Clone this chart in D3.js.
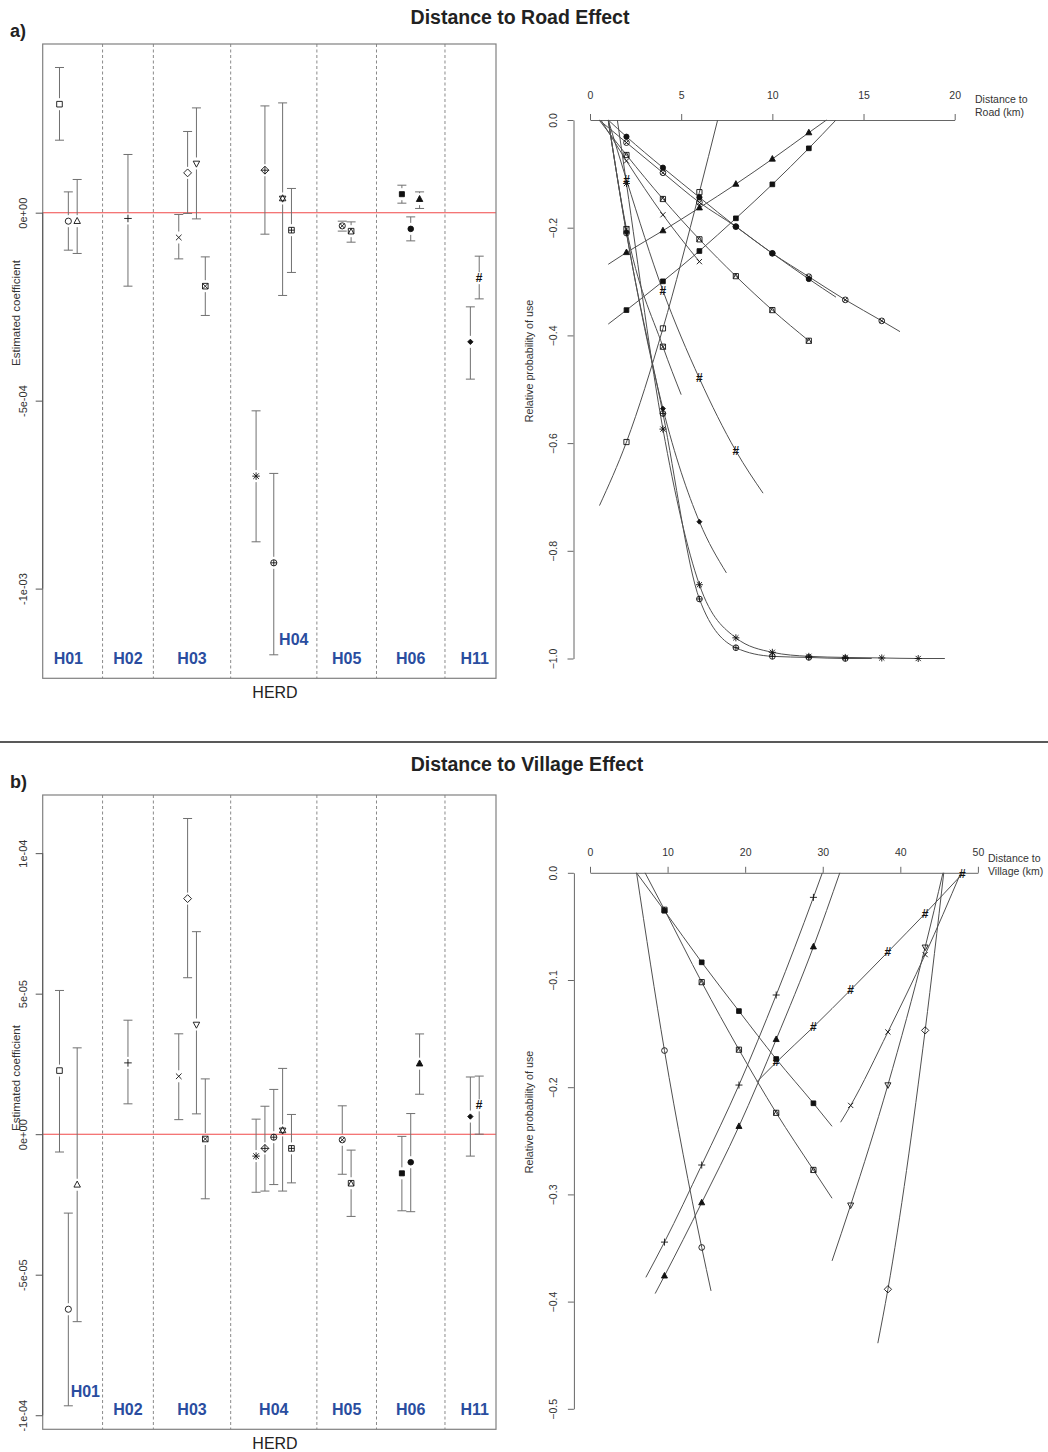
<!DOCTYPE html>
<html><head><meta charset="utf-8">
<script src="https://cdn.jsdelivr.net/npm/d3@7"></script>
<style>body{margin:0;background:#fff}svg{display:block}text{font-family:"Liberation Sans",Arial,sans-serif}</style>
</head><body>
<svg id="c" width="1048" height="1452"></svg>
<script>
// ---------- DATA ----------
const herds = ["H01","H02","H03","H04","H05","H06","H11"];
const coefHerd = [0,0,0,1,2,2,2,2,3,3,3,3,3,4,4,5,5,5,6,6];
const coefPch  = [0,1,2,3,4,5,6,7,8,9,10,11,12,13,14,15,16,17,18,"#"];
// Distance to road coefficients (units of 1e-4)
const roadEst = [2.886,-0.226,-0.226,-0.154,-0.660,1.059,1.309,-1.955,-7.008,1.130,-9.314,0.378,-0.465,-0.351,-0.492,0.492,-0.431,0.359,-3.436,-1.742];
const roadLo  = [1.928,-0.997,-1.085,-1.955,-1.229,-0.020,-0.165,-2.734,-8.755,-0.572,-11.761,-2.202,-1.590,-0.490,-0.785,0.253,-0.750,0.112,-4.428,-2.293];
const roadHi  = [3.862,0.553,0.883,1.548,-0.048,2.160,2.787,-1.176,-5.271,2.840,-6.936,2.920,0.644,-0.226,-0.245,0.731,-0.112,0.553,-2.505,-1.157];
const roadTicks = [0,-5,-10];
const roadTickLabels = ["0e+00","-5e-04","-1e-03"];
// Distance to village coefficients (units of 1e-5)
const villEst = [2.263,-6.229,-1.800,2.537,2.060,8.382,3.902,-0.171,-0.780,-0.506,-0.107,0.135,-0.506,-0.200,-1.746,-1.393,-0.998,2.509,0.627,1.026];
const villLo  = [-0.634,-9.665,-6.671,1.080,0.517,5.567,0.723,-2.299,-2.067,-2.024,-1.793,-2.024,-1.732,-1.426,-2.926,-2.726,-2.758,1.422,-0.780,0.000];
const villHi  = [5.114,-2.808,3.072,4.056,3.571,11.233,7.206,1.967,0.535,0.994,1.593,2.341,0.702,1.009,-0.567,-0.078,0.734,3.567,2.035,2.067];
const villTicks = [10,5,0,-5,-10];
const villTickLabels = ["1e-04","5e-05","0e+00","-5e-05","-1e-04"];

// Relative probability curves: [distance km, relative probability, marker?]
const rH01sq  = [[0.52,-0.716,0],[2,-0.598,1],[4,-0.387,1],[6,-0.134,1],[7.0,0,0]];
const rH03x   = [[0.6,0,0],[2,-0.076,1],[4,-0.176,1],[6,-0.263,1]];
const rH03sqx = [[1.0,0,0],[2,-0.2025,1],[4,-0.421,1],[5,-0.51,0]];
const rH04ast = [[1.5,0,0],[2,-0.118,1],[4,-0.574,1],[6,-0.863,1],[8,-0.9616,1],[10,-0.9885,1],[12,-0.996,1],[14,-0.998,1],[16,-0.999,1],[18,-1.0,1],[19.46,-1.0,0]];
const rH04cp  = [[1.0,0,0],[2,-0.21,1],[4,-0.545,1],[6,-0.8895,1],[8,-0.980,1],[10,-0.996,1],[12,-0.998,1],[14,-1.0,1],[15.45,-1.0,0]];
const rH05cx  = [[0.5,0,0],[2,-0.042,1],[4,-0.098,1],[6,-0.153,1],[8,-0.198,1],[10,-0.2476,1],[12,-0.291,1],[14,-0.334,1],[16,-0.373,1],[17,-0.393,0]];
const rH05st  = [[0.5,0,0],[2,-0.065,1],[4,-0.1467,1],[6,-0.2216,1],[8,-0.29,1],[10,-0.353,1],[12,-0.41,1]];
const rH06fsq = [[1.0,-0.379,0],[2,-0.353,1],[4,-0.2996,1],[6,-0.2433,1],[8,-0.1826,1],[10,-0.1195,1],[12,-0.0526,1],[13.49,0,0]];
const rH06fci = [[1.0,0,0],[2,-0.031,1],[4,-0.0885,1],[6,-0.1436,1],[8,-0.198,1],[10,-0.2476,1],[12,-0.2953,1],[13.49,-0.329,0]];
const rH06ftr = [[1.0,-0.268,0],[2,-0.246,1],[4,-0.2055,1],[6,-0.163,1],[8,-0.119,1],[10,-0.0724,1],[12,-0.0235,1],[12.97,0,0]];
const rH11fdm = [[1.0,0,0],[2,-0.209,1],[4,-0.536,1],[6,-0.746,1],[7.48,-0.841,0]];
const rH11hash= [[1.0,0,0],[2,-0.111,1],[4,-0.317,1],[6,-0.48,1],[8,-0.6145,1],[9.49,-0.693,0]];
const roadCurves = [[rH01sq,0],[rH03x,4],[rH03sqx,7],[rH04ast,8],[rH04cp,10],[rH05cx,13],[rH05st,14],[rH06fsq,15],[rH06fci,16],[rH06ftr,17],[rH11fdm,18],[rH11hash,"#"]];

const vH01ci  = [[6.0,0,0],[9.6,-0.1658,1],[14.4,-0.3495,1],[15.6,-0.390,0]];
const vH02pl  = [[7.2,-0.3774,0],[9.6,-0.3445,1],[14.4,-0.2726,1],[19.2,-0.198,1],[24.0,-0.114,1],[28.8,-0.0229,1],[29.95,0,0]];
const vH03x   = [[32.3,-0.2327,0],[33.6,-0.217,1],[38.4,-0.1485,1],[43.2,-0.0763,1],[47.8,0,0]];
const vH03dm  = [[37.1,-0.4388,0],[38.4,-0.3885,1],[43.2,-0.147,1],[45.6,0,0]];
const vH03td  = [[31.2,-0.362,0],[33.6,-0.31,1],[38.4,-0.1979,1],[43.2,-0.0694,1],[45.5,0,0]];
const vH05st  = [[7.1,0,0],[9.6,-0.0345,1],[14.4,-0.102,1],[19.2,-0.165,1],[24.0,-0.2239,1],[28.8,-0.2772,1],[31.2,-0.3036,0]];
const vH06fsq = [[6.0,0,0],[9.6,-0.0354,1],[14.4,-0.0835,1],[19.2,-0.129,1],[24.0,-0.1737,1],[28.8,-0.215,1],[31.2,-0.2365,0]];
const vH06ftr = [[8.4,-0.3925,0],[9.6,-0.376,1],[14.4,-0.3077,1],[19.2,-0.2365,1],[24.0,-0.1554,1],[28.8,-0.069,1],[32.2,0,0]];
const vH11hash= [[21.5,-0.195,0],[24.0,-0.1768,1],[28.8,-0.1438,1],[33.6,-0.1092,1],[38.4,-0.0738,1],[43.2,-0.038,1],[48.0,-0.001,1]];
const villCurves = [[vH01ci,1],[vH02pl,3],[vH03x,4],[vH03dm,5],[vH03td,6],[vH05st,14],[vH06fsq,15],[vH06ftr,17],[vH11hash,"#"]];

const roadXTicks = [0,5,10,15,20];
const roadYTicks = [0,-0.2,-0.4,-0.6,-0.8,-1.0];
const villXTicks = [0,10,20,30,40,50];
const villYTicks = [0,-0.1,-0.2,-0.3,-0.4,-0.5];

// ---------- DRAWING ----------
const svg = d3.select("#c");
svg.append("rect").attr("width",1048).attr("height",1452).attr("fill","#fff");
const BLUE = "#2a4d9f";

function symPath(pch, s){
  const c = r => `M${r},0A${r},${r} 0 1 1 ${-r},0A${r},${r} 0 1 1 ${r},0Z`;
  const sq = a => `M${-a},${-a}H${a}V${a}H${-a}Z`;
  const tu = a => `M0,${-a*1.2}L${a*1.05},${a*0.75}L${-a*1.05},${a*0.75}Z`;
  const td = a => `M0,${a*1.2}L${a*1.05},${-a*0.75}L${-a*1.05},${-a*0.75}Z`;
  const pl = a => `M${-a},0H${a}M0,${-a}V${a}`;
  const xx = a => `M${-a},${-a}L${a},${a}M${-a},${a}L${a},${-a}`;
  const dm = a => `M0,${-a}L${a},0L0,${a}L${-a},0Z`;
  switch(pch){
    case 0: return sq(s);
    case 1: return c(s*1.1);
    case 2: return tu(s*1.1);
    case 3: return pl(s*1.35);
    case 4: return xx(s);
    case 5: return dm(s*1.4);
    case 6: return td(s*1.1);
    case 7: return sq(s)+xx(s);
    case 8: return pl(s*1.35)+xx(s);
    case 9: return dm(s*1.4)+pl(s*1.4);
    case 10: return c(s*1.1)+pl(s*1.1);
    case 11: return tu(s*1.1)+td(s*1.1);
    case 12: return sq(s)+pl(s);
    case 13: return c(s*1.1)+xx(s*0.78);
    case 14: return sq(s)+`M${-s},${s}L0,${-s}L${s},${s}`;
    case 15: return sq(s*0.9);
    case 16: return c(s*1.0);
    case 17: return tu(s*1.1);
    case 18: return dm(s*0.95);
  }
  return "";
}
function drawSym(g, pch, x, y, s){
  if(pch === "#"){
    g.append("text").attr("x",x).attr("y",y+4).attr("text-anchor","middle")
     .attr("font-size",12).attr("font-weight","bold").attr("fill","#111").text("#");
    return;
  }
  const filled = pch>=15;
  g.append("path").attr("transform",`translate(${x},${y})`).attr("d",symPath(pch,s))
    .attr("fill",filled?"#111":"none").attr("stroke","#111").attr("stroke-width",0.9);
}

// titles & labels
svg.append("text").attr("x",520).attr("y",24).attr("text-anchor","middle").attr("font-size",19.5).attr("font-weight","bold").attr("fill","#222").text("Distance to Road Effect");
svg.append("text").attr("x",527).attr("y",771).attr("text-anchor","middle").attr("font-size",19.5).attr("font-weight","bold").attr("fill","#222").text("Distance to Village Effect");
svg.append("text").attr("x",10).attr("y",37).attr("font-size",18).attr("font-weight","bold").attr("fill","#222").text("a)");
svg.append("text").attr("x",10).attr("y",788).attr("font-size",18).attr("font-weight","bold").attr("fill","#222").text("b)");
svg.append("line").attr("x1",0).attr("x2",1048).attr("y1",742).attr("y2",742).attr("stroke","#222").attr("stroke-width",1.5);

// ---------- coefficient panels ----------
const GAP = 4.74;
const slot = i => i + coefHerd[i]*GAP;
const slots = coefHerd.map((h,i)=>slot(i));
const sMin = d3.min(slots), sMax = d3.max(slots), sPad = (sMax-sMin)*0.04;

function coefPanel(o){
  const g = svg.append("g");
  const x = d3.scaleLinear([sMin-sPad, sMax+sPad],[42.7,496]);
  const lo = d3.min(o.lo), hi = d3.max(o.hi), pad = (hi-lo)*0.04;
  const y = d3.scaleLinear([lo-pad, hi+pad],[o.bottom,o.top]);
  // separators
  for(let h=0;h<herds.length-1;h++){
    const a = d3.max(slots.filter((s,i)=>coefHerd[i]===h));
    const b = d3.min(slots.filter((s,i)=>coefHerd[i]===h+1));
    g.append("line").attr("x1",x((a+b)/2)).attr("x2",x((a+b)/2)).attr("y1",o.top).attr("y2",o.bottom)
     .attr("stroke","#8a8a8a").attr("stroke-dasharray","3,2.5").attr("stroke-width",1);
  }
  // zero line
  g.append("line").attr("x1",x.range()[0]).attr("x2",x.range()[1]).attr("y1",y(0)).attr("y2",y(0))
   .attr("stroke","#f04848").attr("stroke-width",1.1);
  // box
  g.append("rect").attr("x",42.7).attr("y",o.top).attr("width",496-42.7).attr("height",o.bottom-o.top)
   .attr("fill","none").attr("stroke","#808080").attr("stroke-width",1.2);
  // y axis
  const ax = g.append("g").attr("transform","translate(42.7,0)")
    .call(d3.axisLeft(y).tickValues(o.ticks).tickFormat((d,i)=>o.tickLabels[i]).tickSize(7).tickSizeOuter(0));
  ax.select(".domain").attr("stroke","#555").attr("d",`M0,${y(d3.max(o.ticks))}V${y(d3.min(o.ticks))}`);
  ax.selectAll(".tick line").attr("stroke","#555");
  ax.selectAll(".tick text").attr("x",0).attr("dy",null).attr("text-anchor","middle")
    .attr("transform","translate(-16,0) rotate(-90)").attr("font-size",11).attr("fill","#333")
    .style("font-family",'"Liberation Sans",Arial,sans-serif');
  // error bars and points
  const GAPPX = 6, CAP = 4.5;
  o.est.forEach((e,i)=>{
    const cx = x(slots[i]), ye = y(e), yh = y(o.hi[i]), yl = y(o.lo[i]);
    const col = "#707070";
    if(ye-yh > GAPPX) g.append("line").attr("x1",cx).attr("x2",cx).attr("y1",yh).attr("y2",ye-GAPPX).attr("stroke",col);
    if(yl-ye > GAPPX) g.append("line").attr("x1",cx).attr("x2",cx).attr("y1",ye+GAPPX).attr("y2",yl).attr("stroke",col);
    [yh,yl].forEach(yy=>g.append("line").attr("x1",cx-CAP).attr("x2",cx+CAP).attr("y1",yy).attr("y2",yy).attr("stroke",col));
    drawSym(g, coefPch[i], cx, ye, 2.8);
  });
  // herd labels
  herds.forEach((h,hi2)=>{
    const ss = slots.filter((s,i)=>coefHerd[i]===hi2);
    let lx = x(d3.mean(ss)), ly = o.bottom-14;
    if(o.raised && o.raised.h===hi2){ lx += o.raised.dx; ly -= o.raised.dy; }
    g.append("text").attr("x",lx).attr("y",ly).attr("text-anchor","middle").attr("font-size",16)
     .attr("font-weight","bold").attr("fill",BLUE).text(h);
  });
  // axis titles
  g.append("text").attr("x",275).attr("y",o.bottom+20).attr("text-anchor","middle").attr("font-size",16).attr("fill","#222").text("HERD");
  g.append("text").attr("transform",`translate(20,${o.ylabY}) rotate(-90)`).attr("text-anchor","middle")
   .attr("font-size",11.5).attr("fill","#333").text("Estimated coefficient");
}
coefPanel({top:44,bottom:678.3,est:roadEst,lo:roadLo,hi:roadHi,ticks:roadTicks,tickLabels:roadTickLabels,ylabY:313,raised:{h:3,dx:20,dy:19}});
coefPanel({top:795,bottom:1429.3,est:villEst,lo:villLo,hi:villHi,ticks:villTicks,tickLabels:villTickLabels,ylabY:1078,raised:{h:0,dx:17,dy:18}});

// ---------- relative probability panels ----------
function rpPanel(o){
  const g = svg.append("g");
  const x = d3.scaleLinear(o.xdom,o.xr), y = d3.scaleLinear(o.ydom,o.yr);
  const xa = g.append("g").attr("transform",`translate(0,${o.yr[0]})`)
    .call(d3.axisTop(x).tickValues(o.xt).tickFormat(d3.format("d")).tickSize(6).tickSizeOuter(0).tickPadding(o.xpad));
  const ya = g.append("g").attr("transform",`translate(${o.yaxX},0)`)
    .call(d3.axisLeft(y).tickValues(o.yt).tickFormat(d3.format(".1f")).tickSize(6).tickSizeOuter(0));
  [xa,ya].forEach(a=>{
    a.select(".domain").attr("stroke","#666");
    a.selectAll(".tick line").attr("stroke","#666");
    a.selectAll(".tick text").attr("font-size",10.5).attr("fill","#333").style("font-family",'"Liberation Sans",Arial,sans-serif');
  });
  ya.selectAll(".tick text").attr("x",0).attr("dy",null).attr("text-anchor","middle")
    .attr("transform","translate(-17,0) rotate(-90)").text(d=>d===0?"0.0":d3.format(".1f")(d));
  const line = d3.line().x(d=>x(d[0])).y(d=>y(d[1])).curve(d3.curveMonotoneX);
  o.curves.forEach(([pts,pch])=>{
    g.append("path").attr("d",line(pts)).attr("fill","none").attr("stroke","#505050").attr("stroke-width",1);
  });
  o.curves.forEach(([pts,pch])=>{
    pts.filter(p=>p[2]).forEach(p=>drawSym(g,pch,x(p[0]),y(p[1]),2.6));
  });
  o.xlab.forEach((t,i)=>g.append("text").attr("x",o.xlabX).attr("y",o.xlabY+i*13).attr("font-size",10.5).attr("fill","#333").text(t));
  g.append("text").attr("transform",`translate(533,${o.ylabY}) rotate(-90)`).attr("text-anchor","middle")
   .attr("font-size",10.7).attr("fill","#333").text("Relative probability of use");
}
rpPanel({xdom:[0,20],xr:[590,954.7],ydom:[0,-1],yr:[120,658.5],xt:roadXTicks,yt:roadYTicks,xpad:15,yaxX:573.5,
  curves:roadCurves,xlab:["Distance to","Road (km)"],xlabX:975,xlabY:103,ylabY:361});
rpPanel({xdom:[0,50],xr:[590,977.9],ydom:[0,-0.5],yr:[872.8,1408.8],xt:villXTicks,yt:villYTicks,xpad:11,yaxX:573.9,
  curves:villCurves,xlab:["Distance to","Village (km)"],xlabX:988,xlabY:862,ylabY:1112});
</script></body></html>
